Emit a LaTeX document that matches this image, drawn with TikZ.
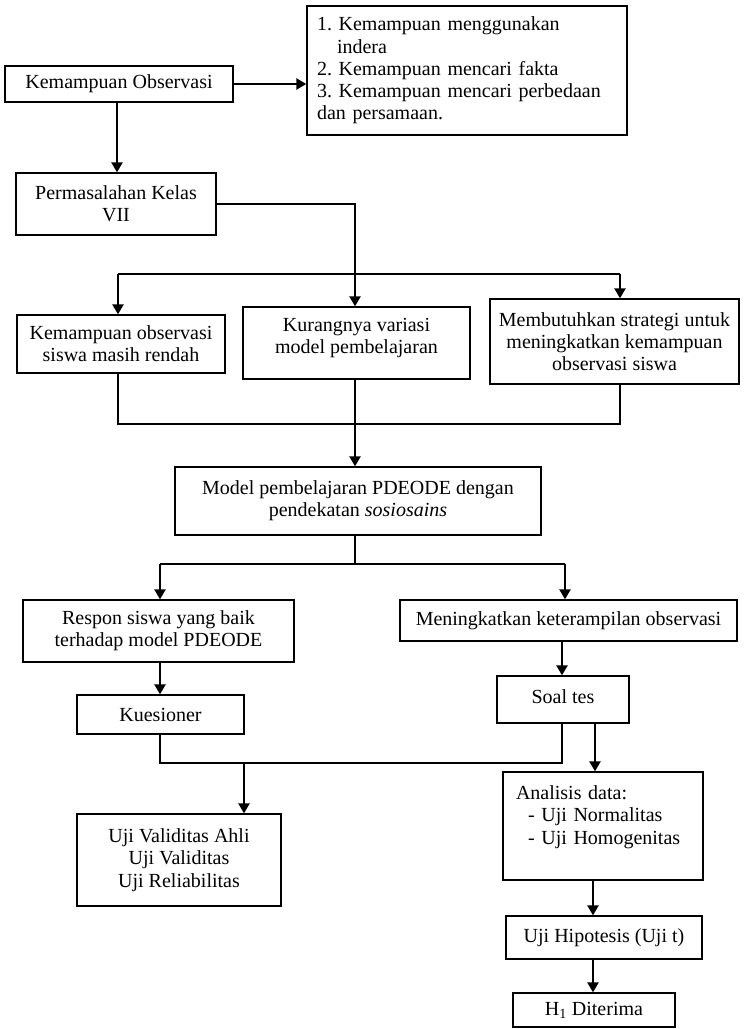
\documentclass[tikz,border=0pt]{standalone}
\usepackage{fontspec}
\setmainfont{Liberation Serif}
\usetikzlibrary{arrows.meta}
\tikzset{
  bx/.style={draw, line width=1.3pt, inner sep=0pt, align=center,
    font=\fontsize{20}{22.3}\selectfont\frenchspacing},
  ln/.style={line width=1.2pt},
  thk/.style={line width=2.3pt},
  arr/.style={line width=2.3pt, -{Triangle[width=11pt,length=10pt]}}
}
\begin{document}
\begin{tikzpicture}[x=1pt,y=-1pt]
\useasboundingbox (0,0) rectangle (744,1029);
\fill[white] (0,0) rectangle (744,1029);
% boxes
\node[bx, minimum width=228pt, minimum height=36pt] (ko) at (119,84) {Kemampuan Observasi};
\node[bx, minimum width=320pt, minimum height=129pt, align=left, text width=300pt, inner xsep=10pt] (tb) at (467,70.5)
  {1. Kemampuan menggunakan\\ \hspace*{20pt}indera\\ 2. Kemampuan mencari fakta\\ 3. Kemampuan mencari perbedaan\\ dan persamaan.};
\node[bx, minimum width=200pt, minimum height=62pt] (perm) at (116,204) {Permasalahan Kelas\\VII};
\node[bx, minimum width=208pt, minimum height=58pt] (lft) at (121,344) {Kemampuan observasi\\siswa masih rendah};
\node[bx, minimum width=227pt, minimum height=72pt] (mid) at (356.5,343) {Kurangnya variasi\\model pembelajaran\\[-8pt]\mbox{}};
\node[bx, minimum width=249pt, minimum height=85pt] (rgt) at (614.5,341.5) {Membutuhkan strategi untuk\\meningkatkan kemampuan\\observasi siswa};
\node[bx, minimum width=366pt, minimum height=68pt] (pde) at (358,501) {Model pembelajaran PDEODE dengan\\pendekatan \textit{sosiosains}};
\node[bx, minimum width=271pt, minimum height=62pt] (resp) at (158.5,631) {Respon siswa yang baik\\terhadap model PDEODE};
\node[bx, minimum width=337pt, minimum height=41pt] (men) at (568.5,620.5) {Meningkatkan keterampilan observasi};
\node[bx, minimum width=167pt, minimum height=39pt] (kue) at (160.5,714.5) {Kuesioner};
\node[bx, minimum width=132pt, minimum height=47pt] (soal) at (563,699.5) {Soal tes\\[-16pt]\mbox{}};
\node[bx, minimum width=204pt, minimum height=92pt] (uv) at (179,860) {Uji Validitas Ahli\\Uji Validitas\\Uji Reliabilitas};
\node[bx, minimum width=200pt, minimum height=108pt, align=left, text width=174pt, inner xsep=13pt] (ana) at (603,826)
  {Analisis data:\\ \hspace*{12pt}- Uji Normalitas\\ \hspace*{12pt}- Uji Homogenitas\\ \mbox{}};
\node[bx, minimum width=196pt, minimum height=43pt] (uh) at (604,937.5) {Uji Hipotesis (Uji t)};
\node[bx, minimum width=162pt, minimum height=34pt] (h1) at (594,1010) {H\textsubscript{1} Diterima};
% connectors top
\coordinate (k1) at (117,0);
\draw[arr] (ko.east) -- (ko.east -| tb.west);
\draw[arr] (ko.south -| k1) -- (perm.north -| k1);
\coordinate (j1) at (355,274);
\coordinate (hl) at (118,274);
\coordinate (hr) at (620,274);
\draw[ln] (perm.east) -| (j1);
\draw[thk] (hl) -- (hr);
\draw[arr] (hl) -- (hl |- lft.north);
\draw[arr] (j1) -- (j1 |- mid.north);
\draw[arr] (hr) -- (hr |- rgt.north);
% merge to PDEODE
\coordinate (b1) at (118,424);
\coordinate (b2) at (355,424);
\coordinate (b3) at (620,424);
\draw[ln] (b1 |- lft.south) -- (b1) -- (b3) -- (b3 |- rgt.south);
\draw[ln] (b2 |- mid.south) -- (b2);
\draw[arr] (b2) -- (b2 |- pde.north);
% split from PDEODE
\coordinate (c1) at (160,564);
\coordinate (c2) at (355,564);
\coordinate (c3) at (565,564);
\draw[ln] (c2 |- pde.south) -- (c2);
\draw[thk] (c1) -- (c3);
\draw[arr] (c1) -- (c1 |- resp.north);
\draw[arr] (c3) -- (c3 |- men.north);
\draw[arr] (resp.south -| c1) -- (kue.north -| c1);
\coordinate (d2) at (562,0);
\draw[arr] (men.south -| d2) -- (soal.north -| d2);
% lower merge
\coordinate (e1) at (160,763);
\coordinate (e2) at (562,763);
\coordinate (e3) at (244,763);
\draw[ln] (kue.south -| e1) -- (e1) -- (e2) -- (soal.south -| e2);
\draw[arr] (e3) -- (e3 |- uv.north);
\coordinate (f1) at (595,0);
\draw[arr] (soal.south -| f1) -- (ana.north -| f1);
\coordinate (g1) at (593,0);
\draw[arr] (ana.south -| g1) -- (uh.north -| g1);
\draw[arr] (uh.south -| g1) -- (h1.north -| g1);
\end{tikzpicture}
\end{document}
